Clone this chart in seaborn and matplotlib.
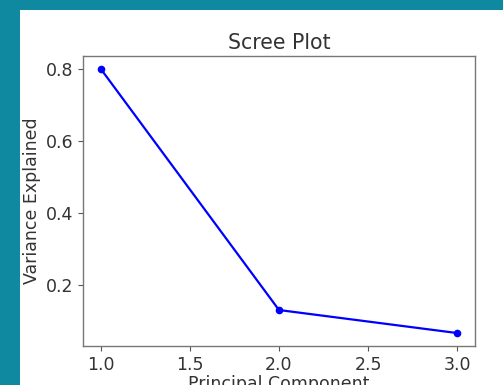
import matplotlib
matplotlib.use("Agg")
import matplotlib.pyplot as plt
import seaborn as sns
import pandas as pd

components = [1, 2, 3]
variance = [0.80, 0.13, 0.066]

W, H = 503, 385
fig = plt.figure(figsize=(W / 100, H / 100), dpi=100, facecolor="#0e89a0")
bg = fig.add_axes([20 / W, 0, 1 - 20 / W, (H - 10) / H], zorder=-10)
bg.set_facecolor("white")
bg.set_xticks([])
bg.set_yticks([])
for s in bg.spines.values():
    s.set_visible(False)

ax = fig.add_axes([83 / W, (H - 346) / H, (475 - 83) / W, (346 - 56) / H])

df = pd.DataFrame({"Principal Component": components, "Variance Explained": variance})
sns.lineplot(data=df, x="Principal Component", y="Variance Explained", marker="o",
             color="blue", markersize=5.5, markeredgewidth=0, linewidth=1.6, ax=ax)

ax.set_xlim(0.9, 3.1)
ax.set_ylim(0.03, 0.836)
ax.set_xticks([1.0, 1.5, 2.0, 2.5, 3.0])
ax.set_yticks([0.2, 0.4, 0.6, 0.8])
ax.set_title("Scree Plot", fontsize=14.8, color="#333333", pad=5)
ax.set_xlabel("Principal Component", fontsize=12.5, color="#333333", labelpad=1)
ax.set_ylabel("Variance Explained", fontsize=12.5, color="#333333", labelpad=3)
ax.tick_params(labelsize=12.5, colors="#555555", labelcolor="#333333", length=3.5)
for s in ax.spines.values():
    s.set_color("#777777")
    s.set_linewidth(1.0)

fig.savefig("out.png", dpi=100, facecolor=fig.get_facecolor())
